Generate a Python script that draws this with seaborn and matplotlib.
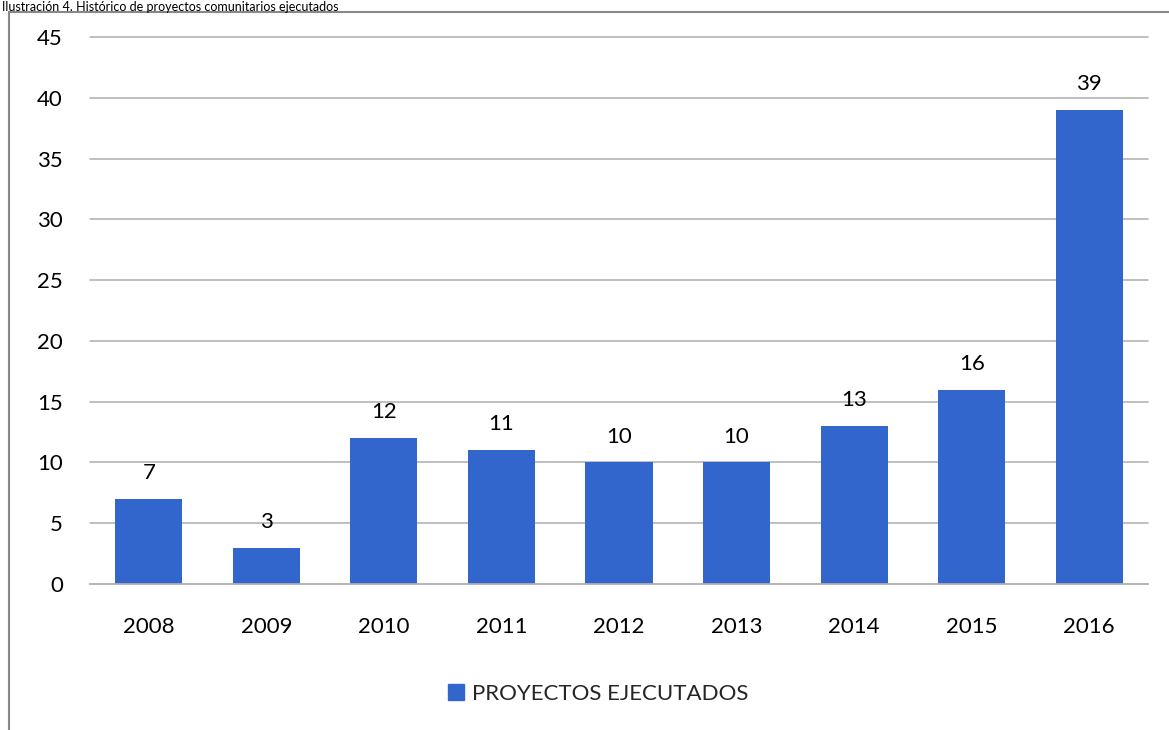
import matplotlib.pyplot as plt
import pandas as pd
import seaborn as sns

years = ["2008", "2009", "2010", "2011", "2012", "2013", "2014", "2015", "2016"]
proyectos = [7, 3, 12, 11, 10, 10, 13, 16, 39]
serie = "PROYECTOS EJECUTADOS"
titulo = "Ilustración 4. Histórico de proyectos comunitarios ejecutados"

df = pd.DataFrame({"year": years, "value": proyectos, "serie": serie})

sns.set_theme(style="white")
plt.rcParams["font.family"] = ["Lato", "DejaVu Sans"]

bar_color = "#3366cc"

fig = plt.figure(figsize=(11.69, 7.30), dpi=100)
ax = fig.add_axes([90 / 1169, 1 - 584 / 730, (1148 - 90) / 1169, (584 - 37) / 730])

sns.barplot(
    data=df,
    x="year",
    y="value",
    hue="serie",
    palette=[bar_color],
    width=0.57,
    saturation=1,
    linewidth=0,
    legend=False,
    ax=ax,
)

ax.set_ylim(0, 45)
ax.set_xlim(-0.5, len(years) - 0.5)
ax.set_yticks(range(0, 46, 5))
ax.yaxis.grid(True, color="#b4b4b4", linewidth=1.2)
for line in ax.get_ygridlines():
    line.set_clip_on(False)
ax.set_axisbelow(True)
for side in ["top", "right", "left"]:
    ax.spines[side].set_visible(False)
ax.spines["bottom"].set_color("#b4b4b4")
ax.spines["bottom"].set_linewidth(1.2)
ax.set_xlabel("")
ax.set_ylabel("")
ax.tick_params(axis="both", length=0, labelsize=16, colors="#000000")
ax.tick_params(axis="y", pad=19.5)
ax.tick_params(axis="x", pad=24)

for i, v in enumerate(proyectos):
    ax.text(i, v + 1.3, str(v), ha="center", va="bottom", fontsize=16, color="#000000")

# legend
handle = plt.Rectangle((0, 0), 1, 1, color=bar_color)
fig.legend(
    [handle],
    [serie],
    loc="center",
    bbox_to_anchor=(598 / 1169, 1 - 694 / 730),
    frameon=False,
    fontsize=16,
    handlelength=0.75,
    handleheight=0.75,
    handletextpad=0.35,
)

# chart frame (right and bottom run past the picture edge)
frame = plt.Rectangle(
    (9 / 1169, -0.05),
    1.2,
    1 - 12 / 730 + 0.05,
    transform=fig.transFigure,
    fill=False,
    edgecolor="#888888",
    linewidth=1.5,
)
fig.add_artist(frame)

fig.text(2 / 1169, 1 - 11 / 730, titulo, ha="left", va="baseline", fontsize=9, color="#000000")

fig.savefig("out.png", dpi=100)
